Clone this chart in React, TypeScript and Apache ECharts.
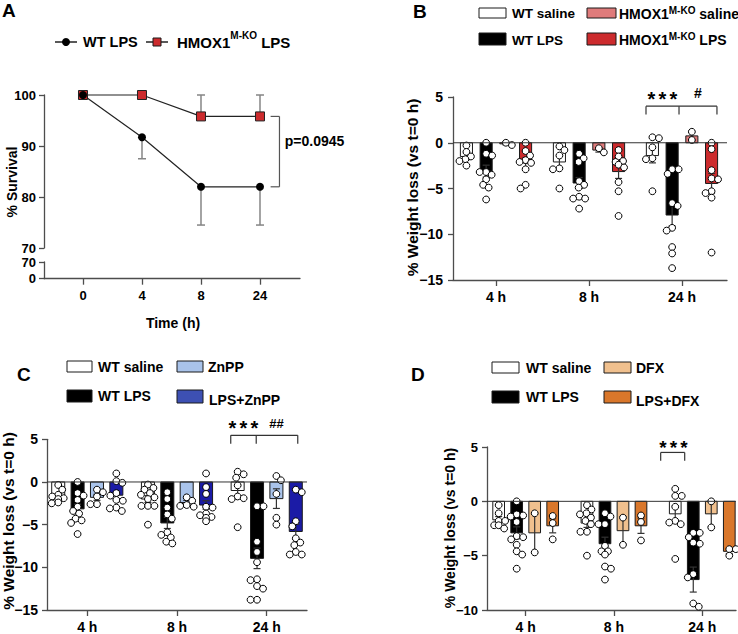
import React, { useEffect, useRef } from "react";
import * as echarts from "echarts";

const FONT = "Liberation Sans, Arial, Helvetica, sans-serif";

// ---------------- Panel A: survival ----------------
const survivalTimeLabels = ["0", "4", "8", "24"];
const wtLpsSurvival = [100, 91.7, 82, 82];
const wtLpsSurvivalErrEnd = [100, 87.5, 74.5, 74.5];
const koLpsSurvival = [100, 100, 95.8, 95.8];
const koLpsSurvivalErrEnd = [100, 100, 100, 100];
const survivalPText = "p=0.0945";

// ---------------- Weight-loss panels ----------------
const weightTimeLabels = ["4 h", "8 h", "24 h"];

// Panel B
const bWtSalineMean = [-1.5, -2.1, -1.4];
const bWtSalineSem = [0.35, 0.65, 0.8];
const bWtSalineDots = [
  [-0.3, -1.0, -1.5, -1.8, -2.0, -2.5],
  [-0.4, -0.8, -1.4, -2.8, -2.9, -5.0],
  [0.6, 0.5, -0.5, -1.7, -1.8, -5.3],
];
const bWtLpsMean = [-3.1, -4.4, -7.9];
const bWtLpsSem = [0.65, 0.6, 1.2];
const bWtLpsDots = [
  [0, -1.2, -1.4, -3.2, -3.2, -3.5, -4.0, -4.6, -4.9, -6.2],
  [-1.2, -1.7, -2.1, -4.2, -4.6, -4.9, -5.9, -6.1, -6.1, -7.2],
  [-2.9, -2.9, -3.4, -6.6, -6.9, -9.3, -9.6, -11.4, -12.1, -13.7],
];
const bKoSalineMean = [-0.12, -0.8, 0.75];
const bKoSalineSem = [0.1, 0.22, 0.45];
const bKoSalineDots = [
  [-0.25, 0],
  [-1.05, -0.6],
  [1.2, 0.3],
];
const bKoLpsMean = [-2.2, -3.15, -4.45];
const bKoLpsSem = [0.55, 0.75, 1.1];
const bKoLpsDots = [
  [0, -0.9, -1.4, -1.9, -2.1, -2.2, -2.9, -4.6, -5.0],
  [-0.8, -1.5, -2.0, -2.1, -2.4, -2.7, -4.3, -5.3, -8.0],
  [0, -0.7, -3.0, -3.9, -4.0, -5.3, -5.5, -6.0, -12.0],
];

// Panel C
const cWtSalineMean = [-1.6, -2.0, -1.0];
const cWtSalineSem = [0.25, 0.4, 0.65];
const cWtSalineDots = [
  [-0.35, -0.9, -1.5, -1.7, -1.9, -2.0, -2.4, -2.5],
  [-0.3, -0.7, -0.9, -1.3, -1.5, -1.8, -2.0, -2.8, -2.8, -2.8, -5.0],
  [1.2, 0.9, 0.5, -0.4, -1.7, -1.9, -2.0, -5.3],
];
const cWtLpsMean = [-3.15, -4.8, -8.95];
const cWtLpsSem = [0.55, 0.65, 1.2];
const cWtLpsDots = [
  [0, -1.3, -1.6, -2.1, -2.9, -3.4, -3.7, -4.3, -4.5, -4.8, -6.1],
  [-1.2, -2.0, -3.0, -3.8, -4.3, -5.9, -6.2, -6.5, -7.0, -7.2],
  [-2.85, -2.85, -7.0, -8.2, -9.4, -11.4, -11.5, -12.2, -12.5, -13.8, -13.8],
];
const cZnppMean = [-1.8, -2.4, -1.95];
const cZnppSem = [0.35, 0.25, 1.15];
const cZnppDots = [
  [-0.9, -1.2, -1.7, -2.6, -2.6],
  [-1.8, -2.2, -2.7, -2.8, -2.9],
  [0.7, 0.2, -1.4, -4.2, -5.0],
];
const cLpsZnppMean = [-1.55, -2.7, -5.8];
const cLpsZnppSem = [0.45, 0.5, 0.85];
const cLpsZnppDots = [
  [1.0, 0.1, -0.1, -1.3, -1.6, -2.1, -2.2, -3.0, -3.1, -3.4],
  [1.0, -0.6, -1.4, -2.9, -3.0, -3.7, -3.9, -4.1, -4.2, -4.6],
  [-0.9, -1.2, -4.6, -5.2, -6.6, -7.1, -7.4, -8.2, -8.5, -8.5],
];

// Panel D
const dWtSalineMean = [-1.7, -2.0, -1.15];
const dWtSalineSem = [0.3, 0.4, 0.7];
const dWtSalineDots = [
  [-0.35, -1.1, -1.8, -1.8, -2.2, -2.2, -2.5],
  [-0.35, -0.75, -1.1, -1.2, -1.5, -1.8, -2.1, -2.8, -2.8, -5.0],
  [1.15, 0.5, 0.5, -0.5, -1.8, -1.95, -2.1, -5.3],
];
const dWtLpsMean = [-2.9, -3.9, -7.2];
const dWtLpsSem = [0.55, 0.6, 1.15];
const dWtLpsDots = [
  [0, -1.2, -1.3, -1.4, -1.9, -3.2, -3.3, -3.5, -4.0, -4.6, -4.9, -6.2],
  [-1.1, -1.4, -2.1, -2.1, -4.1, -4.6, -4.6, -4.9, -6.0, -6.2, -7.2],
  [-2.9, -2.9, -3.3, -3.8, -3.9, -6.7, -7.0, -9.4, -9.7],
];
const dDfxMean = [-2.9, -2.7, -1.15];
const dDfxSem = [1.8, 1.25, 1.2];
const dDfxDots = [
  [-1.1, -4.7],
  [-1.5, -4.0],
  [0, -2.4],
];
const dLpsDfxMean = [-2.25, -2.25, -4.6];
const dLpsDfxSem = [0.65, 0.7, 0.2];
const dLpsDfxDots = [
  [-1.35, -2.0, -3.5],
  [-1.3, -1.9, -3.6],
  [-4.4, -4.4, -5.0],
];

// ---------------- helpers ----------------
type Group = { mean: number[]; sem: number[]; dots: number[][]; color: string };

const AXIS_COLOR = "#4d4d4d";
const axisLineStyle = { color: AXIS_COLOR, width: 1.3 };
const DOT_R = 3.4;

function swarmOffsets(ys: number[], r: number, maxOff: number): number[] {
  const order = ys.map((_, i) => i).sort((a, b) => ys[a] - ys[b]);
  const placed: [number, number][] = [];
  const xs = ys.map(() => 0);
  const minD = 2 * r * 0.9;
  let flip = 1;
  for (const i of order) {
    let chosen = 0;
    let ok = false;
    for (let k = 0; k <= maxOff * 2 && !ok; k++) {
      const cands = k === 0 ? [0] : [flip * k * 0.5, -flip * k * 0.5];
      for (const c of cands) {
        if (placed.every(([px, py]) => (px - c) ** 2 + (py - ys[i]) ** 2 >= minD * minD)) {
          chosen = c;
          ok = true;
          break;
        }
      }
    }
    if (chosen !== 0) flip = -Math.sign(chosen);
    xs[i] = chosen;
    placed.push([chosen, ys[i]]);
  }
  return xs;
}

function seg(x1: number, y1: number, x2: number, y2: number, stroke = "#333", lineWidth = 1.2) {
  return { type: "line", shape: { x1, y1, x2, y2 }, style: { stroke, lineWidth } };
}

function barSeries(axisIndex: number, groups: Group[], step: number, barW: number, capW: number) {
  const data: number[][] = [];
  groups.forEach((g, b) => g.mean.forEach((m, t) => data.push([t, m, b, g.sem[t]])));
  return {
    type: "custom",
    xAxisIndex: axisIndex,
    yAxisIndex: axisIndex,
    clip: false,
    z: 2,
    encode: { x: 0, y: 1 },
    data,
    renderItem: (_p: any, api: any) => {
      const t = api.value(0);
      const m = api.value(1);
      const b = api.value(2);
      const s = api.value(3);
      const g = groups[b];
      const xv = t + (b - (groups.length - 1) / 2) * step;
      const base = api.coord([xv, 0]);
      const top = api.coord([xv, m]);
      const w = api.size([barW, 0])[0];
      const cx = base[0];
      const children: any[] = [];
      children.push({
        type: "rect",
        shape: { x: cx - w / 2, y: Math.min(base[1], top[1]), width: w, height: Math.abs(base[1] - top[1]) },
        style: { fill: g.color, stroke: "#1a1a1a", lineWidth: 1 },
      });
      if (s > 0) {
        const hi = api.coord([xv, m + s])[1];
        const lo = api.coord([xv, m - s])[1];
        children.push(seg(cx, hi, cx, lo));
        children.push(seg(cx - capW / 2, lo, cx + capW / 2, lo));
        children.push(seg(cx - capW / 2, hi, cx + capW / 2, hi));
      }
      const ys = g.dots[t].map((v) => api.coord([xv, v])[1]);
      const offs = swarmOffsets(ys, DOT_R, 7);
      ys.forEach((y, i) =>
        children.push({
          type: "circle",
          shape: { cx: cx + offs[i], cy: y, r: DOT_R },
          style: { fill: "#ffffff", stroke: "#000000", lineWidth: 1 },
        })
      );
      return { type: "group", children };
    },
  };
}

type Sig = {
  legs: number[];
  top: number;
  bottom: number;
  starX: number;
  starRaise: number;
  starSize: number;
  starGap: number;
  hash?: string;
  hashX?: number;
  hashRaise?: number;
  hashSize?: number;
};

function annotationSeries(axisIndex: number, xMin: number, xMax: number, sig: Sig) {
  return {
    type: "custom",
    xAxisIndex: axisIndex,
    yAxisIndex: axisIndex,
    clip: false,
    z: 4,
    encode: { x: 0, y: 1 },
    data: [[0, 0]],
    renderItem: (_p: any, api: any) => {
      const children: any[] = [];
      const z0 = api.coord([xMin, 0]);
      const z1 = api.coord([xMax, 0]);
      children.push(seg(z0[0], z0[1], z1[0], z1[1], "#333", 1));
      const topY = api.coord([sig.legs[0], sig.top])[1];
      const botY = api.coord([sig.legs[0], sig.bottom])[1];
      const lx = sig.legs.map((l) => api.coord([l, 0])[0]);
      children.push(seg(lx[0], topY, lx[lx.length - 1], topY, "#333", 1.2));
      lx.forEach((x) => children.push(seg(x, topY, x, botY, "#333", 1.2)));
      const sx = api.coord([sig.starX, 0])[0];
      [-1, 0, 1].forEach((k) =>
        children.push({
          type: "text",
          x: sx + k * sig.starGap,
          y: topY - sig.starRaise + 0.22 * sig.starSize,
          style: {
            text: "*",
            fill: "#000",
            fontSize: sig.starSize,
            fontWeight: "bold",
            fontFamily: FONT,
            align: "center",
            verticalAlign: "middle",
          },
        })
      );
      if (sig.hash) {
        const hx = api.coord([sig.hashX, 0])[0];
        children.push({
          type: "text",
          x: hx,
          y: topY - (sig.hashRaise || 0),
          style: {
            text: sig.hash,
            fill: "#000",
            fontSize: sig.hashSize,
            fontWeight: "bold",
            fontFamily: FONT,
            align: "center",
            verticalAlign: "middle",
          },
        });
      }
      return { type: "group", children };
    },
  };
}

function yAxisDef(gridIndex: number, min: number, max: number, interval: number, fontSize: number, margin: number) {
  return {
    type: "value",
    gridIndex,
    min,
    max,
    interval,
    axisLine: { show: true, onZero: false, lineStyle: axisLineStyle },
    axisTick: { show: true, length: 5, lineStyle: axisLineStyle },
    splitLine: { show: false },
    axisLabel: {
      color: "#000",
      fontWeight: "bold",
      fontSize,
      fontFamily: FONT,
      margin,
      formatter: (v: number) => String(v).replace("-", "\u2212"),
    },
  };
}

function xAxisDef(gridIndex: number, min: number, max: number, labels: string[], fontSize: number, show = true) {
  const ticks = labels.map((_, i) => i);
  return {
    type: "value",
    gridIndex,
    min,
    max,
    show,
    axisLine: { show: true, onZero: false, lineStyle: axisLineStyle },
    axisTick: { show: true, length: 6, customValues: ticks, lineStyle: axisLineStyle },
    splitLine: { show: false },
    axisLabel: {
      customValues: ticks,
      color: "#000",
      fontWeight: "bold",
      fontSize,
      fontFamily: FONT,
      margin: 10,
      formatter: (v: number) => labels[Math.round(v)] ?? "",
    },
  };
}

function txt(x: number, y: number, text: string, size: number, extra: any = {}) {
  return {
    type: "text",
    x,
    y,
    style: {
      text,
      fill: "#000",
      fontSize: size,
      fontWeight: "bold",
      fontFamily: FONT,
      align: "left",
      verticalAlign: "middle",
      ...extra,
    },
  };
}

function box(x: number, y: number, w: number, h: number, fill: string) {
  return { type: "rect", shape: { x, y, width: w, height: h }, style: { fill, stroke: "#1a1a1a", lineWidth: 1 } };
}

function supText(x: number, y: number, pre: string, sup: string, post: string, size: number, supSize: number, raise: number) {
  const lh = 12 + 2 * raise;
  return {
    type: "text",
    x,
    y,
    style: {
      text: `{a|${pre}}{s|${sup}}{a|${post}}`,
      fill: "#000",
      verticalAlign: "middle",
      align: "left",
      rich: {
        a: { fontSize: size, fontWeight: "bold", fontFamily: FONT, lineHeight: lh, fill: "#000" },
        s: { fontSize: supSize, fontWeight: "bold", fontFamily: FONT, lineHeight: 12, verticalAlign: "top", fill: "#000" },
      },
    },
  };
}

const COLORS = {
  white: "#ffffff",
  black: "#000000",
  koSaline: "#df7b7b",
  koLps: "#cc2b2d",
  znpp: "#a9c3ea",
  lpsZnpp: "#1b1ba6",
  lpsZnppLegend: "#3d50b3",
  dfx: "#f0c08e",
  lpsDfx: "#d9772b",
};

function buildOption() {
  const bGroups: Group[] = [
    { mean: bWtSalineMean, sem: bWtSalineSem, dots: bWtSalineDots, color: COLORS.white },
    { mean: bWtLpsMean, sem: bWtLpsSem, dots: bWtLpsDots, color: COLORS.black },
    { mean: bKoSalineMean, sem: bKoSalineSem, dots: bKoSalineDots, color: COLORS.koSaline },
    { mean: bKoLpsMean, sem: bKoLpsSem, dots: bKoLpsDots, color: COLORS.koLps },
  ];
  const cGroups: Group[] = [
    { mean: cWtSalineMean, sem: cWtSalineSem, dots: cWtSalineDots, color: COLORS.white },
    { mean: cWtLpsMean, sem: cWtLpsSem, dots: cWtLpsDots, color: COLORS.black },
    { mean: cZnppMean, sem: cZnppSem, dots: cZnppDots, color: COLORS.znpp },
    { mean: cLpsZnppMean, sem: cLpsZnppSem, dots: cLpsZnppDots, color: COLORS.lpsZnpp },
  ];
  const dGroups: Group[] = [
    { mean: dWtSalineMean, sem: dWtSalineSem, dots: dWtSalineDots, color: COLORS.white },
    { mean: dWtLpsMean, sem: dWtLpsSem, dots: dWtLpsDots, color: COLORS.black },
    { mean: dDfxMean, sem: dDfxSem, dots: dDfxDots, color: COLORS.dfx },
    { mean: dLpsDfxMean, sem: dLpsDfxSem, dots: dLpsDfxDots, color: COLORS.lpsDfx },
  ];

  const aX: [number, number] = [-0.661, 3.678];
  const bX: [number, number] = [-0.4624, 2.484];
  const cX: [number, number] = [-0.449, 2.449];
  const dX: [number, number] = [-0.438, 2.382];

  const errA = (vals: number[], ends: number[]) => ({
    type: "custom",
    xAxisIndex: 0,
    yAxisIndex: 0,
    clip: false,
    z: 2,
    encode: { x: 0, y: 1 },
    data: vals.map((v, i) => [i, v, ends[i]]),
    renderItem: (_p: any, api: any) => {
      const x = api.value(0);
      const v = api.value(1);
      const e = api.value(2);
      if (v === e) return { type: "group", children: [] };
      const p1 = api.coord([x, v]);
      const p2 = api.coord([x, e]);
      return {
        type: "group",
        children: [seg(p1[0], p1[1], p2[0], p2[1], "#858585", 1.5), seg(p2[0] - 4, p2[1], p2[0] + 4, p2[1], "#858585", 1.5)],
      };
    },
  });

  const pBracket = {
    type: "custom",
    xAxisIndex: 0,
    yAxisIndex: 0,
    clip: false,
    z: 4,
    encode: { x: 0, y: 1 },
    data: [[0, 0]],
    renderItem: (_p: any, api: any) => {
      const a = api.coord([3.33, koLpsSurvival[3]]);
      const b = api.coord([3.33, wtLpsSurvival[3]]);
      const l = api.coord([3.18, 0])[0];
      const t = api.coord([3.42, (koLpsSurvival[3] + wtLpsSurvival[3]) / 2 + 2]);
      return {
        type: "group",
        children: [
          seg(a[0], a[1], b[0], b[1], "#555", 1.2),
          seg(l, a[1], a[0], a[1], "#555", 1.2),
          seg(l, b[1], b[0], b[1], "#555", 1.2),
          {
            type: "text",
            x: t[0],
            y: t[1],
            style: {
              text: survivalPText,
              fill: "#000",
              fontSize: 14,
              fontWeight: "bold",
              fontFamily: FONT,
              align: "left",
              verticalAlign: "middle",
            },
          },
        ],
      };
    },
  };

  const graphics: any[] = [
    // panel letters
    txt(2, 10, "A", 19),
    txt(413, 11, "B", 19),
    txt(17, 374, "C", 19),
    txt(411, 374, "D", 19),
    // A legend
    seg(55, 42, 77, 42, "#222", 1.5),
    { type: "circle", shape: { cx: 66, cy: 42, r: 4 }, style: { fill: "#000" } },
    txt(83, 42, "WT LPS", 14.5),
    seg(146, 42, 168, 42, "#222", 1.5),
    box(153, 38, 8, 8, COLORS.koLps),
    supText(177, 42, "HMOX1", "M-KO", " LPS", 15, 10, 6),
    // A axis titles
    txt(173, 323, "Time (h)", 14, { align: "center" }),
    { ...txt(12, 182, "% Survival", 14, { align: "center" }), rotation: Math.PI / 2 },
    // B legend
    box(479, 8, 27, 10, COLORS.white),
    txt(512, 13.5, "WT saline", 13.5),
    box(587, 8, 29, 10, COLORS.koSaline),
    supText(619, 13.5, "HMOX1", "M-KO", " saline", 14, 10, 2.5),
    box(479, 33, 27, 12, COLORS.black),
    txt(512, 40, "WT LPS", 13.5),
    box(587, 33, 29, 12, COLORS.koLps),
    supText(619, 40, "HMOX1", "M-KO", " LPS", 14, 10, 2.5),
    { ...txt(412, 187.5, "% Weight loss (vs t=0 h)", 15.5, { align: "center" }), rotation: Math.PI / 2 },
    // C legend
    box(67, 361, 25, 11, COLORS.white),
    txt(98, 366.5, "WT saline", 14),
    box(177, 361, 26, 11, COLORS.znpp),
    txt(208, 366.5, "ZnPP", 14),
    box(67, 390, 25, 12, COLORS.black),
    txt(98, 396, "WT LPS", 14),
    box(177, 390, 26, 13, COLORS.lpsZnppLegend),
    txt(209, 400, "LPS+ZnPP", 14),
    { ...txt(8.5, 521, "% Weight loss (vs t=0 h)", 15.5, { align: "center" }), rotation: Math.PI / 2 },
    // D legend
    box(492, 362, 27, 11, COLORS.white),
    txt(526, 367.5, "WT saline", 14),
    box(604, 362, 27, 11, COLORS.dfx),
    txt(636, 367.5, "DFX", 14),
    box(492, 391, 27, 12, COLORS.black),
    txt(526, 397, "WT LPS", 14),
    box(604, 391, 27, 12, COLORS.lpsDfx),
    txt(636, 401, "LPS+DFX", 14),
    { ...txt(450, 528, "% Weight loss (vs t=0 h)", 14, { align: "center" }), rotation: Math.PI / 2 },
  ];

  return {
    animation: false,
    backgroundColor: "#ffffff",
    textStyle: { fontFamily: FONT },
    grid: [
      { left: 44, top: 95, width: 256, height: 153 },
      { left: 44, top: 262, width: 256, height: 16.7 },
      { left: 453, top: 97, width: 274, height: 183 },
      { left: 47, top: 439.3, width: 260, height: 173.7 },
      { left: 487, top: 447, width: 249, height: 164 },
    ],
    xAxis: [
      xAxisDef(0, aX[0], aX[1], survivalTimeLabels, 13, false),
      xAxisDef(1, aX[0], aX[1], survivalTimeLabels, 13),
      xAxisDef(2, bX[0], bX[1], weightTimeLabels, 14),
      xAxisDef(3, cX[0], cX[1], weightTimeLabels, 14),
      xAxisDef(4, dX[0], dX[1], weightTimeLabels, 14),
    ],
    yAxis: [
      yAxisDef(0, 70, 100, 10, 13, 8),
      yAxisDef(1, 0, 70, 70, 13, 8),
      yAxisDef(2, -15, 5, 5, 14, 10),
      yAxisDef(3, -15, 5, 5, 14, 9),
      yAxisDef(4, -10, 5, 5, 13, 9),
    ],
    series: [
      errA(wtLpsSurvival, wtLpsSurvivalErrEnd),
      errA(koLpsSurvival, koLpsSurvivalErrEnd),
      {
        type: "line",
        name: "HMOX1 LPS",
        xAxisIndex: 0,
        yAxisIndex: 0,
        clip: false,
        z: 3,
        data: koLpsSurvival.map((v, i) => [i, v]),
        symbol: "rect",
        symbolSize: 9,
        itemStyle: { color: COLORS.koLps, borderColor: "#222", borderWidth: 1 },
        lineStyle: { color: "#222", width: 1.2 },
      },
      {
        type: "line",
        name: "WT LPS",
        xAxisIndex: 0,
        yAxisIndex: 0,
        clip: false,
        z: 3,
        data: wtLpsSurvival.map((v, i) => [i, v]),
        symbol: "circle",
        symbolSize: 8,
        itemStyle: { color: "#000" },
        lineStyle: { color: "#222", width: 1.2 },
      },
      pBracket,
      barSeries(2, bGroups, 0.212, 0.13, 7),
      barSeries(3, cGroups, 0.216, 0.145, 7),
      barSeries(4, dGroups, 0.204, 0.1325, 7),
      annotationSeries(2, bX[0], bX[1], {
        legs: [1.613, 1.968, 2.376],
        top: 4.0,
        bottom: 3.1,
        starX: 1.79,
        starRaise: 11.7,
        starSize: 20,
        starGap: 11,
        hash: "#",
        hashX: 2.172,
        hashRaise: 13,
        hashSize: 14,
      }),
      annotationSeries(3, cX[0], cX[1], {
        legs: [1.599, 1.883, 2.346],
        top: 5.46,
        bottom: 4.49,
        starX: 1.741,
        starRaise: 11.3,
        starSize: 20,
        starGap: 11,
        hash: "##",
        hashX: 2.109,
        hashRaise: 12,
        hashSize: 13,
      }),
      annotationSeries(4, dX[0], dX[1], {
        legs: [1.529, 1.801],
        top: 4.5,
        bottom: 3.74,
        starX: 1.674,
        starRaise: 9,
        starSize: 19,
        starGap: 10.5,
      }),
    ],
    graphic: { elements: graphics },
  };
}

export default function App() {
  const ref = useRef<HTMLDivElement>(null);
  useEffect(() => {
    if (!ref.current) return;
    const chart = echarts.init(ref.current, undefined, { renderer: "svg" });
    chart.setOption(buildOption() as any);
    return () => chart.dispose();
  }, []);
  return <div ref={ref} style={{ position: "absolute", left: 0, top: 0, width: 738, height: 634 }} />;
}
